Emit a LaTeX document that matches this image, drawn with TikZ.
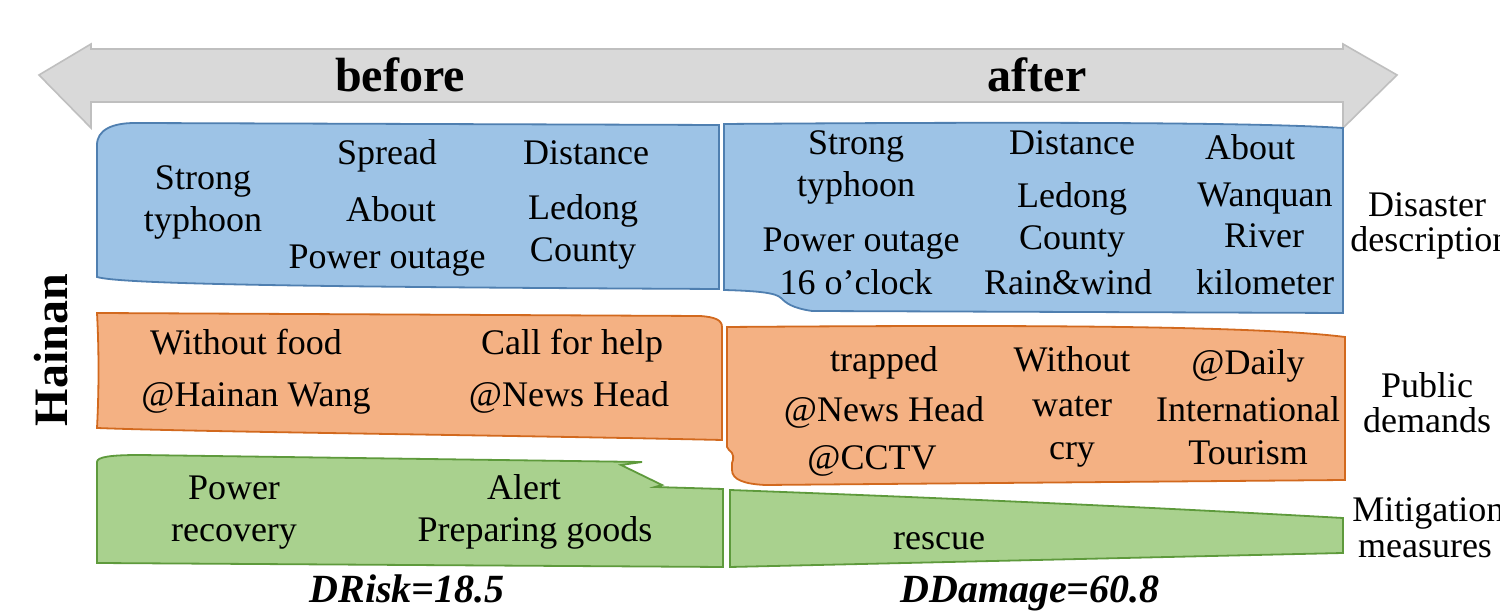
\documentclass[tikz,border=0pt]{standalone}
\usepackage{fontspec}
\setmainfont{Liberation Serif}
\definecolor{arrF}{HTML}{D9D9D9}
\definecolor{arrD}{HTML}{BFBFBF}
\definecolor{blueF}{HTML}{9DC3E6}
\definecolor{blueD}{HTML}{4F7FB0}
\definecolor{orF}{HTML}{F4B183}
\definecolor{orD}{HTML}{D2691E}
\definecolor{grF}{HTML}{A9D18E}
\definecolor{grD}{HTML}{5E9A3C}
\begin{document}
\begin{tikzpicture}[x=0.5pt,y=-0.5pt,
  txt/.style={font=\fontsize{18}{21}\selectfont, inner sep=0pt, anchor=base},
  sidetxt/.style={font=\fontsize{18}{21}\selectfont, inner sep=0pt, anchor=base},
  toptxt/.style={font=\fontsize{24}{28}\selectfont\bfseries, inner sep=0pt, anchor=base},
  scoretxt/.style={font=\fontsize{20}{24}\selectfont\bfseries\itshape, inner sep=0pt, anchor=base},
  blueshape/.style={fill=blueF, draw=blueD, line width=0.9pt},
  orshape/.style={fill=orF, draw=orD, line width=0.9pt},
  grshape/.style={fill=grF, draw=grD, line width=0.9pt},
  arrshape/.style={fill=arrF, draw=arrD, line width=0.8pt}]
\useasboundingbox (0,0) rectangle (1500,613);
\clip (0,0) rectangle (1500,613);
\fill[white] (0,0) rectangle (1500,613);

% time arrow
\draw[arrshape] (39,75) -- (91,44) -- (91,49) -- (1343,49) -- (1343,44) -- (1397,75)
  -- (1343,128) -- (1343,102) -- (91,102) -- (91,128) -- cycle;
\node[toptxt] (before) at (400,92) {before};
\node[toptxt] (after) at (1037,92) {after};

% Hainan
\node[font=\fontsize{24}{28}\selectfont\bfseries, inner sep=0pt, rotate=90] (hainan) at (51,350) {Hainan};

% blue before
\draw[blueshape] (97,145) .. controls (97,130) and (112,123) .. (135,123) -- (719,125)
  -- (719,289) .. controls (300,287) and (120,284) .. (97,277) -- cycle;
\node[txt] (b1) at (203,190) {Strong};
\node[txt] (b2) at (203,232) {typhoon};
\node[txt] (b3) at (387,165) {Spread};
\node[txt] (b4) at (391,222) {About};
\node[txt] (b5) at (387,269) {Power outage};
\node[txt] (b6) at (586,165) {Distance};
\node[txt] (b7) at (583,220) {Ledong};
\node[txt] (b8) at (583,262) {County};

% blue after
\draw[blueshape] (724,124) .. controls (1000,122) and (1250,122) .. (1343,128) -- (1343,313)
  -- (812,311) .. controls (792,308) and (786,303) .. (781,298)
  .. controls (776,293) and (760,291) .. (724,290) -- cycle;
\node[txt] (a1) at (856,155) {Strong};
\node[txt] (a2) at (856,197) {typhoon};
\node[txt] (a3) at (861,252) {Power outage};
\node[txt] (a4) at (856,295) {16 o’clock};
\node[txt] (a5) at (1072,155) {Distance};
\node[txt] (a6) at (1072,208) {Ledong};
\node[txt] (a7) at (1072,250) {County};
\node[txt] (a8) at (1068,295) {Rain\&wind};
\node[txt] (a9) at (1250,160) {About};
\node[txt] (a10) at (1265,207) {Wanquan};
\node[txt] (a11) at (1264,248) {River};
\node[txt] (a12) at (1265,295) {kilometer};
\node[sidetxt] (s1) at (1427,217) {Disaster};
\node[sidetxt, anchor=base west] (s2) at (1350,252) {description};

% orange before
\draw[orshape] (97,313) -- (700,316) .. controls (715,317) and (722,320) .. (722,327)
  -- (722,440) .. controls (500,435) and (200,432) .. (97,428)
  .. controls (99,390) and (99,350) .. (97,313) -- cycle;
\node[txt] (o1) at (246,355) {Without food};
\node[txt] (o2) at (256,407) {@Hainan Wang};
\node[txt] (o3) at (572,355) {Call for help};
\node[txt] (o4) at (569,407) {@News Head};

% orange after
\draw[orshape] (727,327) .. controls (1000,325) and (1250,325) .. (1345,337) -- (1345,480)
  -- (765,485) .. controls (745,484) and (732,480) .. (732,470) -- (732,463)
  .. controls (734,459) and (734,453) .. (729,450) -- (727,447) -- cycle;
\node[txt] (p1) at (884,372) {trapped};
\node[txt] (p2) at (884,422) {@News Head};
\node[txt] (p3) at (872,470) {@CCTV};
\node[txt] (p4) at (1072,372) {Without};
\node[txt] (p5) at (1072,417) {water};
\node[txt] (p6) at (1072,460) {cry};
\node[txt] (p7) at (1248,375) {@Daily};
\node[txt] (p8) at (1248,422) {International};
\node[txt] (p9) at (1248,465) {Tourism};
\node[sidetxt] (s3) at (1427,398) {Public};
\node[sidetxt] (s4) at (1427,433) {demands};

% green before
\draw[grshape] (97,462) .. controls (97,457) and (110,455) .. (140,455) -- (642,462) -- (621,465)
  -- (662,485) -- (655,487) -- (723,489) -- (723,567) -- (97,563) -- cycle;
\node[txt] (g1) at (234,500) {Power};
\node[txt] (g2) at (234,542) {recovery};
\node[txt] (g3) at (524,500) {Alert};
\node[txt] (g4) at (535,542) {Preparing goods};

% green after
\draw[grshape] (730,490) .. controls (1000,500) and (1200,510) .. (1343,518) -- (1343,553) -- (730,567) -- cycle;
\node[txt] (g5) at (939,550) {rescue};
\node[sidetxt, anchor=base west] (s5) at (1352,522) {Mitigation};
\node[sidetxt] (s6) at (1425,558) {measures};

% scores
\node[scoretxt] (risk) at (407,603) {DRisk=18.5};
\node[scoretxt] (damage) at (1030,603) {DDamage=60.8};
\end{tikzpicture}
\end{document}
